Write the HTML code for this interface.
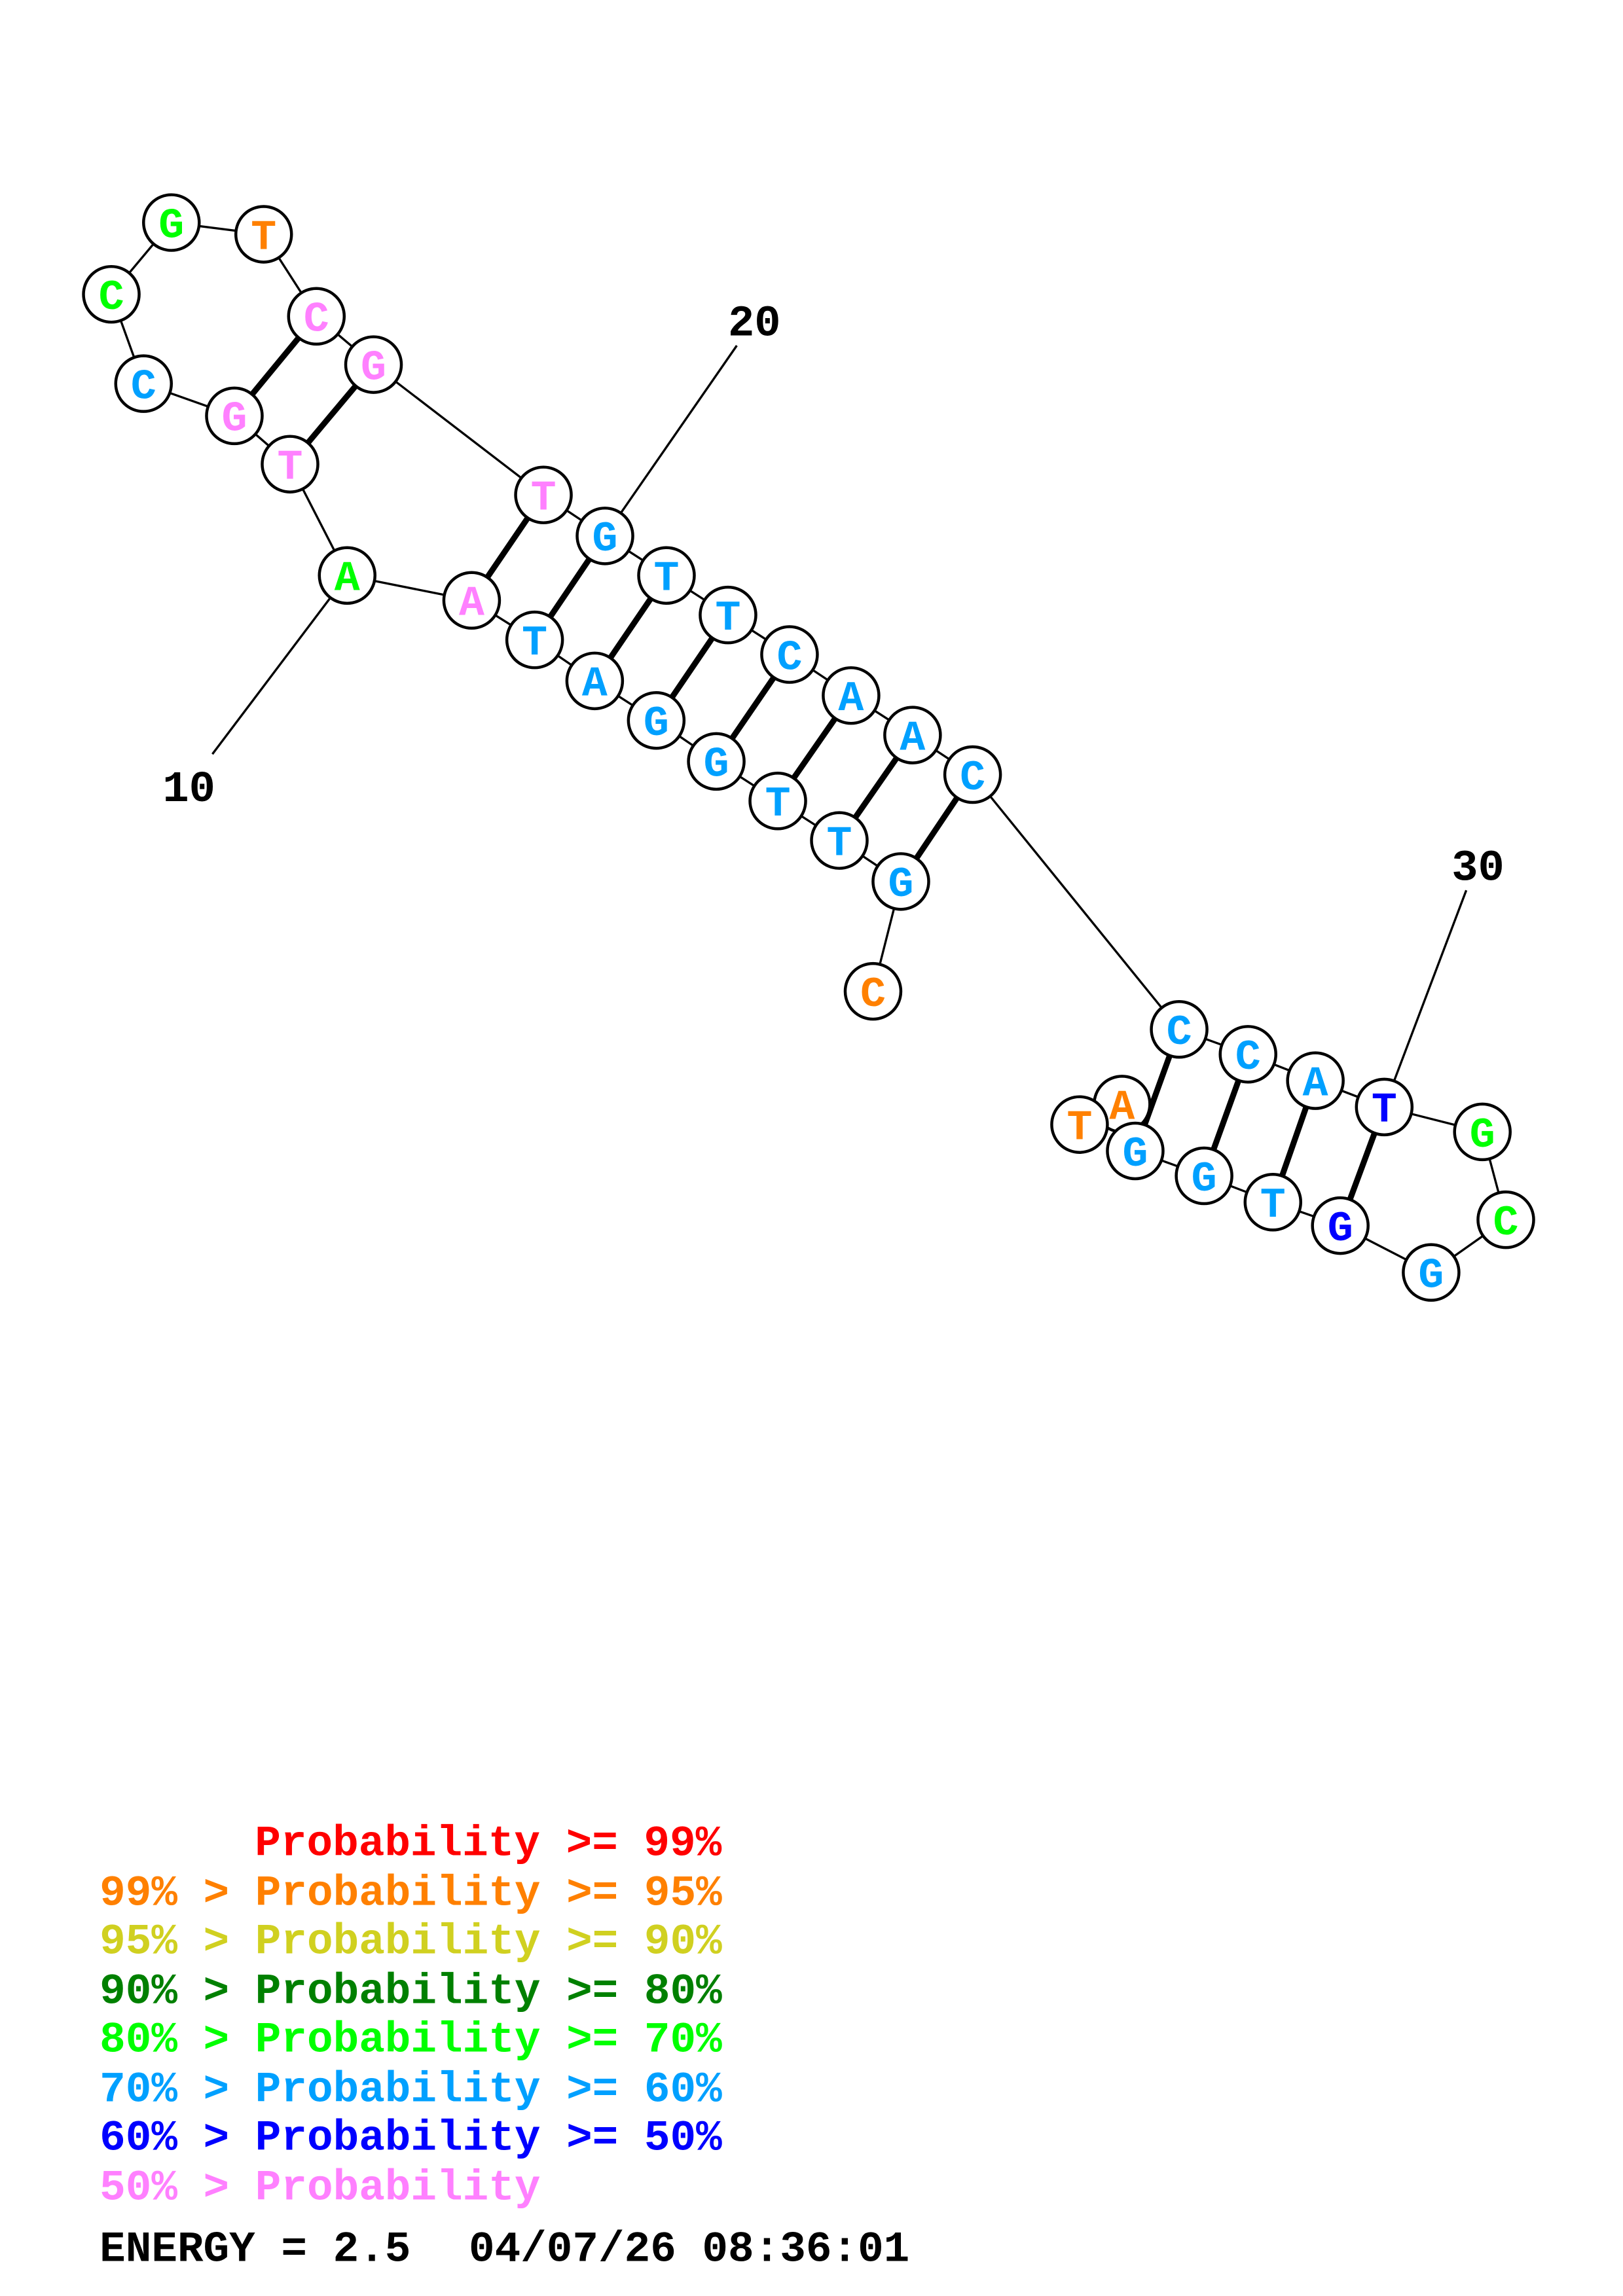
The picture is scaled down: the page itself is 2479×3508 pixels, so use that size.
<!DOCTYPE html>
<html><head><meta charset="utf-8"><style>html,body{margin:0;padding:0;background:#fff}svg{display:block}</style></head>
<body>
<svg width="2479" height="3508" viewBox="0 0 1108 1568" preserveAspectRatio="none" xmlns="http://www.w3.org/2000/svg">
<g stroke="#000" stroke-width="1.5" fill="none">
<polyline points="596,677 615,602 573,574 531,547 489,520 448,492 406,465 365,437 322,410 237,393 198,317 160,284 98,262 76,201 117,152 180,160 216,216 255,249 371,338 413,366 455,393 497,420 539,447 581,475 623,502 664,529 805,703 852,720 898,738 945,756 1012,773 1028,833 977,869 915,837 869,821 822,803 775,786 766,754 737,768"/>
<line x1="237" y1="393" x2="145" y2="515"/>
<line x1="413" y1="366" x2="503" y2="236"/>
<line x1="945" y1="756" x2="1001" y2="608"/>
</g>
<g stroke="#000" stroke-width="4">
<line x1="216" y1="216" x2="160" y2="284"/><line x1="255" y1="249" x2="198" y2="317"/>
<line x1="371" y1="338" x2="322" y2="410"/><line x1="413" y1="366" x2="365" y2="437"/>
<line x1="455" y1="393" x2="406" y2="465"/><line x1="497" y1="420" x2="448" y2="492"/>
<line x1="539" y1="447" x2="489" y2="520"/><line x1="581" y1="475" x2="531" y2="547"/>
<line x1="623" y1="502" x2="573" y2="574"/><line x1="664" y1="529" x2="615" y2="602"/>
<line x1="805" y1="703" x2="775" y2="786"/><line x1="852" y1="720" x2="822" y2="803"/>
<line x1="898" y1="738" x2="869" y2="821"/><line x1="945" y1="756" x2="915" y2="837"/>
</g>
<g font-family="Liberation Mono, monospace" font-weight="bold" font-size="29" text-anchor="middle" stroke-width="2">
<g><circle cx="596" cy="677" r="19" fill="#fff" stroke="#000"/><text x="596" y="687" fill="#ff8000">C</text></g>
<g><circle cx="615" cy="602" r="19" fill="#fff" stroke="#000"/><text x="615" y="612" fill="#00a0ff">G</text></g>
<g><circle cx="573" cy="574" r="19" fill="#fff" stroke="#000"/><text x="573" y="584" fill="#00a0ff">T</text></g>
<g><circle cx="531" cy="547" r="19" fill="#fff" stroke="#000"/><text x="531" y="557" fill="#00a0ff">T</text></g>
<g><circle cx="489" cy="520" r="19" fill="#fff" stroke="#000"/><text x="489" y="530" fill="#00a0ff">G</text></g>
<g><circle cx="448" cy="492" r="19" fill="#fff" stroke="#000"/><text x="448" y="502" fill="#00a0ff">G</text></g>
<g><circle cx="406" cy="465" r="19" fill="#fff" stroke="#000"/><text x="406" y="475" fill="#00a0ff">A</text></g>
<g><circle cx="365" cy="437" r="19" fill="#fff" stroke="#000"/><text x="365" y="447" fill="#00a0ff">T</text></g>
<g><circle cx="322" cy="410" r="19" fill="#fff" stroke="#000"/><text x="322" y="420" fill="#ff80ff">A</text></g>
<g><circle cx="237" cy="393" r="19" fill="#fff" stroke="#000"/><text x="237" y="403" fill="#00ff00">A</text></g>
<g><circle cx="198" cy="317" r="19" fill="#fff" stroke="#000"/><text x="198" y="327" fill="#ff80ff">T</text></g>
<g><circle cx="160" cy="284" r="19" fill="#fff" stroke="#000"/><text x="160" y="294" fill="#ff80ff">G</text></g>
<g><circle cx="98" cy="262" r="19" fill="#fff" stroke="#000"/><text x="98" y="272" fill="#00a0ff">C</text></g>
<g><circle cx="76" cy="201" r="19" fill="#fff" stroke="#000"/><text x="76" y="211" fill="#00ff00">C</text></g>
<g><circle cx="117" cy="152" r="19" fill="#fff" stroke="#000"/><text x="117" y="162" fill="#00ff00">G</text></g>
<g><circle cx="180" cy="160" r="19" fill="#fff" stroke="#000"/><text x="180" y="170" fill="#ff8000">T</text></g>
<g><circle cx="216" cy="216" r="19" fill="#fff" stroke="#000"/><text x="216" y="226" fill="#ff80ff">C</text></g>
<g><circle cx="255" cy="249" r="19" fill="#fff" stroke="#000"/><text x="255" y="259" fill="#ff80ff">G</text></g>
<g><circle cx="371" cy="338" r="19" fill="#fff" stroke="#000"/><text x="371" y="348" fill="#ff80ff">T</text></g>
<g><circle cx="413" cy="366" r="19" fill="#fff" stroke="#000"/><text x="413" y="376" fill="#00a0ff">G</text></g>
<g><circle cx="455" cy="393" r="19" fill="#fff" stroke="#000"/><text x="455" y="403" fill="#00a0ff">T</text></g>
<g><circle cx="497" cy="420" r="19" fill="#fff" stroke="#000"/><text x="497" y="430" fill="#00a0ff">T</text></g>
<g><circle cx="539" cy="447" r="19" fill="#fff" stroke="#000"/><text x="539" y="457" fill="#00a0ff">C</text></g>
<g><circle cx="581" cy="475" r="19" fill="#fff" stroke="#000"/><text x="581" y="485" fill="#00a0ff">A</text></g>
<g><circle cx="623" cy="502" r="19" fill="#fff" stroke="#000"/><text x="623" y="512" fill="#00a0ff">A</text></g>
<g><circle cx="664" cy="529" r="19" fill="#fff" stroke="#000"/><text x="664" y="539" fill="#00a0ff">C</text></g>
<g><circle cx="805" cy="703" r="19" fill="#fff" stroke="#000"/><text x="805" y="713" fill="#00a0ff">C</text></g>
<g><circle cx="852" cy="720" r="19" fill="#fff" stroke="#000"/><text x="852" y="730" fill="#00a0ff">C</text></g>
<g><circle cx="898" cy="738" r="19" fill="#fff" stroke="#000"/><text x="898" y="748" fill="#00a0ff">A</text></g>
<g><circle cx="945" cy="756" r="19" fill="#fff" stroke="#000"/><text x="945" y="766" fill="#0000ff">T</text></g>
<g><circle cx="1012" cy="773" r="19" fill="#fff" stroke="#000"/><text x="1012" y="783" fill="#00ff00">G</text></g>
<g><circle cx="1028" cy="833" r="19" fill="#fff" stroke="#000"/><text x="1028" y="843" fill="#00ff00">C</text></g>
<g><circle cx="977" cy="869" r="19" fill="#fff" stroke="#000"/><text x="977" y="879" fill="#00a0ff">G</text></g>
<g><circle cx="915" cy="837" r="19" fill="#fff" stroke="#000"/><text x="915" y="847" fill="#0000ff">G</text></g>
<g><circle cx="869" cy="821" r="19" fill="#fff" stroke="#000"/><text x="869" y="831" fill="#00a0ff">T</text></g>
<g><circle cx="822" cy="803" r="19" fill="#fff" stroke="#000"/><text x="822" y="813" fill="#00a0ff">G</text></g>
<g><circle cx="766" cy="754" r="19" fill="#fff" stroke="#000"/><text x="766" y="764" fill="#ff8000">A</text></g>
<g><circle cx="775" cy="786" r="19" fill="#fff" stroke="#000"/><text x="775" y="796" fill="#00a0ff">G</text></g>
<g><circle cx="737" cy="768" r="19" fill="#fff" stroke="#000"/><text x="737" y="778" fill="#ff8000">T</text></g>
</g>
<g font-family="Liberation Mono, monospace" font-weight="bold" font-size="30" fill="#000" text-anchor="middle">
<text x="129" y="547">10</text>
<text x="515" y="229">20</text>
<text x="1009" y="601">30</text>
</g>
<g font-family="Liberation Mono, monospace" font-weight="bold" font-size="29.5">
<text x="174" y="1267" fill="#ff0000">Probability &gt;= 99%</text>
<text x="68" y="1301" fill="#ff8000">99% &gt; Probability &gt;= 95%</text>
<text x="68" y="1334" fill="#d0d020">95% &gt; Probability &gt;= 90%</text>
<text x="68" y="1368" fill="#008000">90% &gt; Probability &gt;= 80%</text>
<text x="68" y="1401" fill="#00ff00">80% &gt; Probability &gt;= 70%</text>
<text x="68" y="1435" fill="#00a0ff">70% &gt; Probability &gt;= 60%</text>
<text x="68" y="1468" fill="#0000ff">60% &gt; Probability &gt;= 50%</text>
<text x="68" y="1502" fill="#ff80ff">50% &gt; Probability</text>
<text x="68" y="1544" fill="#000">ENERGY = 2.5</text>
<text x="320" y="1544" fill="#000">04/07/26 08:36:01</text>
</g>
</svg>
</body></html>
